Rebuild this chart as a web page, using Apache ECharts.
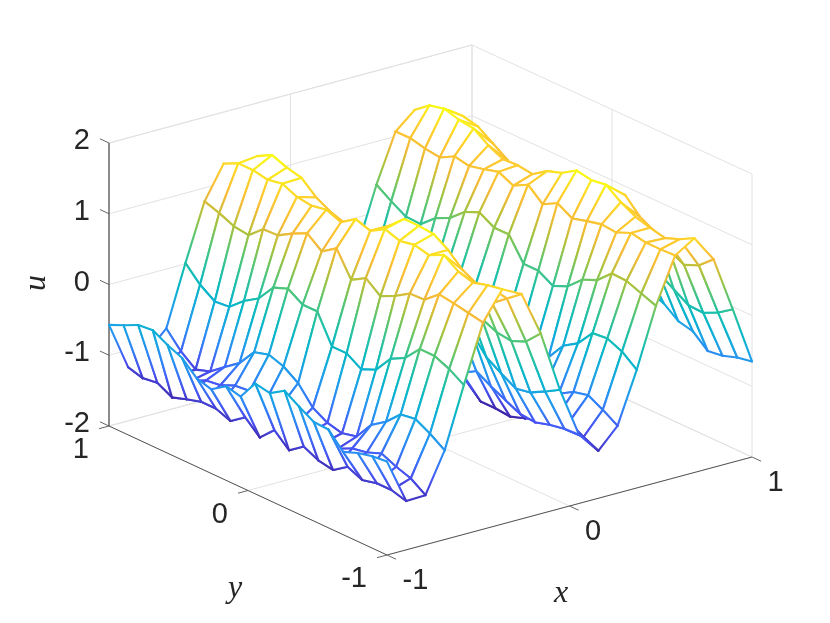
<!DOCTYPE html>
<html>
<head>
<meta charset="utf-8">
<style>html,body{margin:0;background:#fff}#main{width:830px;height:623px}</style>
<script src="https://cdn.jsdelivr.net/npm/echarts@6/dist/echarts.min.js"></script>
</head>
<body>
<div id="main"></div>
<script>
// one row per x grid line, each row runs from y = 1 down to y = -1
const u = [
  [-.57,-.48,-.38,-.36,-.47,-.56,-.75,-.81,-.67,-.72,-.44,-.48,-.35,-.48,-.60,-.61,-.83,-.75,-.70,-.68],
  [-1.24,-1.30,-1.27,-1.38,-1.31,-1.25,-1.25,-1.33,-1.18,-1.37,-1.17,-1.36,-1.21,-1.31,-1.35,-1.21,-1.30,-1.25,-1.25,-1.31],
  [-1.10,-1.18,-1.24,-1.22,-1.12,-1.09,-1.00,-.98,-1.06,-1.04,-1.20,-1.20,-1.24,-1.22,-1.12,-1.08,-1.00,-1.09,-1.16,-1.30],
  [-.84,-1.07,-1.23,-1.16,-1.00,-.85,-.60,-.54,-.61,-.75,-1.00,-1.12,-1.17,-1.12,-.86,-.72,-.52,-.49,-.60,-.74],
  [.01,-.20,-.34,-.32,-.14,-.01,.24,.32,.19,.19,-.21,-.21,-.34,-.25,0,.11,.33,.33,.24,.11],
  [.81,.74,.65,.62,.80,.81,.93,1.03,.87,1.01,.66,.78,.62,.72,.85,.86,1.03,1.00,.96,.92],
  [1.27,1.37,1.37,1.33,1.37,1.28,1.25,1.29,1.21,1.35,1.28,1.40,1.33,1.37,1.32,1.42,1.28,1.22,1.28,1.32],
  [1.16,1.40,1.51,1.43,1.38,1.20,1.09,1.02,1.08,1.03,1.28,1.47,1.47,1.45,1.32,1.13,1.02,.86,1.02,1.18],
  [.63,.76,.80,.78,.66,.55,.38,.32,.38,.39,.62,.67,.75,.72,.48,.37,.28,.25,.34,.55],
  [-.22,-.12,-.03,-.03,-.13,-.22,-.38,-.43,-.32,-.35,-.10,-.12,-.02,-.08,-.34,-.47,-.59,-.55,-.44,-.32],
  [-.90,-.89,-.83,-.87,-.89,-.90,-1.00,-1.07,-.92,-1.05,-.80,-.92,-.80,-.92,-1.02,-1.12,-1.14,-1.08,-1.04,-1.03],
  [-1.17,-1.24,-1.25,-1.30,-1.22,-1.17,-1.13,-1.16,-1.12,-1.20,-1.20,-1.40,-1.40,-1.42,-1.35,-1.25,-1.20,-1.12,-1.23,-1.33],
  [-.97,-1.12,-1.23,-1.19,-1.06,-.97,-.80,-.76,-.83,-.90,-1.10,-1.16,-1.20,-1.17,-1.00,-.98,-.86,-.81,-.92,-1.05],
  [-.42,-.63,-.78,-.74,-.57,-.43,-.18,-.11,-.21,-.28,-.60,-.66,-.75,-.73,-.47,-.34,-.10,-.08,-.17,-.33],
  [.39,.25,.13,.12,.30,.40,.58,.67,.55,.55,.23,.23,.11,.20,.39,.48,.67,.66,.58,.50],
  [1.07,1.07,1.02,.99,1.10,1.06,1.11,1.17,1.07,1.18,1.00,1.11,.99,1.05,1.10,1.08,1.17,1.13,1.13,1.14],
  [1.30,1.46,1.51,1.45,1.42,1.28,1.18,1.19,1.16,1.30,1.37,1.50,1.46,1.49,1.34,1.23,1.17,1.12,1.20,1.31],
  [1.16,1.32,1.33,1.28,1.14,1.00,.78,.72,.76,.78,1.04,1.12,1.26,1.27,1.06,.95,.78,.67,.76,.94],
  [.10,.21,.29,.28,.18,.10,-.03,-.08,0,0,.22,.22,.29,.24,.19,.06,-.07,-.08,.02,.16],
  [-.55,-.46,-.36,-.34,-.45,-.54,-.73,-.79,-.65,-.70,-.42,-.46,-.33,-.40,-.56,-.61,-.79,-.76,-.69,-.65]
];
const xTicks = [-1, 0, 1];
const yTicks = [-1, 0, 1];
const zTicks = [-2, -1, 0, 1, 2];

const n = u.length, m = u[0].length;
const zMin = Math.min(...u.flat()), zMax = Math.max(...u.flat());

// fixed view of the box, projected by hand because plain echarts has no 3D axes
function project(x, y, z) {
  const a = (x + 1) / 2, b = (1 - y) / 2;
  return [109 + a * 365 + b * 278 - 2 * a * (1 - b), 426 - a * 98 + b * 129 - (z + 2) * 70.75];
}
const gx = i => -1 + 2 * i / (n - 1);
const gy = j => 1 - 2 * j / (m - 1);

const parula = [
  [62,38,168],[72,82,244],[46,135,247],[25,165,228],[5,182,200],[35,193,165],
  [85,198,115],[170,195,60],[245,185,55],[254,205,45],[249,251,21]
];
function cmap(z) {
  const t = Math.max(0, Math.min(1, (z - zMin) / (zMax - zMin))) * (parula.length - 1);
  const i = Math.min(parula.length - 2, Math.floor(t)), f = t - i;
  const c = parula[i].map((v, k) => Math.round(v + (parula[i + 1][k] - v) * f));
  return 'rgb(' + c.join(',') + ')';
}
function edge(p, q, z1, z2) {
  const stops = [];
  for (let k = 0; k <= 6; k++) stops.push({ offset: k / 6, color: cmap(z1 + (z2 - z1) * k / 6) });
  return {
    type: 'line',
    shape: { x1: p[0], y1: p[1], x2: q[0], y2: q[1] },
    style: {
      stroke: new echarts.graphic.LinearGradient(p[0], p[1], q[0] + 0.01, q[1] + 0.01, stops, true),
      lineWidth: 2.1, lineCap: 'round'
    }
  };
}

// far cells first so nearer ones paint over them
const cells = [];
for (let i = n - 2; i >= 0; i--) for (let j = 0; j < m - 1; j++) cells.push([i, j]);

function renderCell(params, api) {
  const i = api.value(0), j = api.value(1);
  const corner = (a, b) => api.coord(project(gx(a), gy(b), u[a][b]));
  const p = [corner(i, j), corner(i + 1, j), corner(i + 1, j + 1), corner(i, j + 1)];
  return {
    type: 'group',
    children: [
      { type: 'polygon', shape: { points: p }, style: { fill: '#fff' } },
      edge(p[0], p[1], u[i][j], u[i + 1][j]),
      edge(p[1], p[2], u[i + 1][j], u[i + 1][j + 1]),
      edge(p[3], p[2], u[i][j + 1], u[i + 1][j + 1]),
      edge(p[0], p[3], u[i][j], u[i][j + 1])
    ]
  };
}

// box, grid lines and ticks as [from, to, kind]
const segs = [];
const add = (a, b, kind) => segs.push([...project(...a), ...project(...b), kind]);
zTicks.forEach(z => {
  add([-1, 1, z], [1, 1, z], 0);
  add([1, 1, z], [1, -1, z], 0);
  add([-1, 1.065, z], [-1, 1, z], 2);
});
xTicks.forEach(x => {
  add([x, 1, -2], [x, 1, 2], 0);
  add([x, 1, -2], [x, -1, -2], 0);
  add([x, -1, -2], [x, -1.065, -2], 2);
});
yTicks.forEach(y => {
  add([1, y, -2], [1, y, 2], 0);
  add([-1, y, -2], [1, y, -2], 0);
  add([-1.055, y, -2], [-1, y, -2], 2);
});
add([-1, 1, 2], [1, 1, 2], 0);
add([-1, -1, -2], [1, -1, -2], 1);
add([-1, 1, -2], [-1, -1, -2], 1);
add([-1, 1, -2], [-1, 1, 2], 3);

const segStyle = [
  { stroke: '#e2e2e2', lineWidth: 1 },
  { stroke: '#555', lineWidth: 1 },
  { stroke: '#666', lineWidth: 1 },
  { stroke: '#262626', lineWidth: 1 }
];
function renderSeg(params, api) {
  const a = api.coord([api.value(0), api.value(1)]), b = api.coord([api.value(2), api.value(3)]);
  return {
    type: 'line',
    shape: { x1: a[0], y1: a[1], x2: b[0], y2: b[1] },
    style: segStyle[api.value(4)]
  };
}

// tick and axis text, anchored to the projected tick positions
const tickFont = '29px "Liberation Sans", Arial, sans-serif';
const nameFont = 'italic 32px "Liberation Serif", serif';
const texts = [];
xTicks.forEach(x => {
  const p = project(x, -1, -2);
  texts.push({ t: String(x), x: p[0] + 15.5, y: p[1] + 26, align: 'left', font: tickFont });
});
yTicks.forEach(y => {
  const p = project(-1, y, -2);
  texts.push({ t: String(y), x: p[0] - 20, y: p[1] + 24, align: 'right', font: tickFont });
});
zTicks.forEach(z => {
  const p = project(-1, 1, z);
  texts.push({ t: String(z), x: p[0] - 19, y: p[1] - 2, align: 'right', font: tickFont });
});
texts.push({ t: 'x', x: 561, y: 594, align: 'center', font: nameFont });
texts.push({ t: 'y', x: 235, y: 589, align: 'center', font: nameFont });
texts.push({ t: 'u', x: 37, y: 283, align: 'center', font: nameFont, rot: Math.PI / 2 });

const chart = echarts.init(document.getElementById('main'), null, { renderer: 'canvas' });
chart.setOption({
  backgroundColor: '#fff',
  animation: false,
  grid: { left: 0, right: 0, top: 0, bottom: 0 },
  xAxis: { type: 'value', min: 0, max: 830, show: false },
  yAxis: { type: 'value', min: 0, max: 623, inverse: true, show: false },
  series: [
    { type: 'custom', z: 1, silent: true, clip: false, data: segs, renderItem: renderSeg },
    { type: 'custom', z: 2, silent: true, clip: false, progressive: 0, data: cells, renderItem: renderCell },
    {
      type: 'custom', z: 3, silent: true, clip: false,
      data: texts.map((d, i) => [i]),
      renderItem: (params, api) => {
        const d = texts[api.value(0)];
        const c = api.coord([d.x, d.y]);
        return {
          type: 'text', x: c[0], y: c[1], rotation: d.rot || 0,
          style: { text: d.t, font: d.font, fill: '#262626', align: d.align, verticalAlign: 'middle' }
        };
      }
    }
  ]
});
</script>
</body>
</html>
